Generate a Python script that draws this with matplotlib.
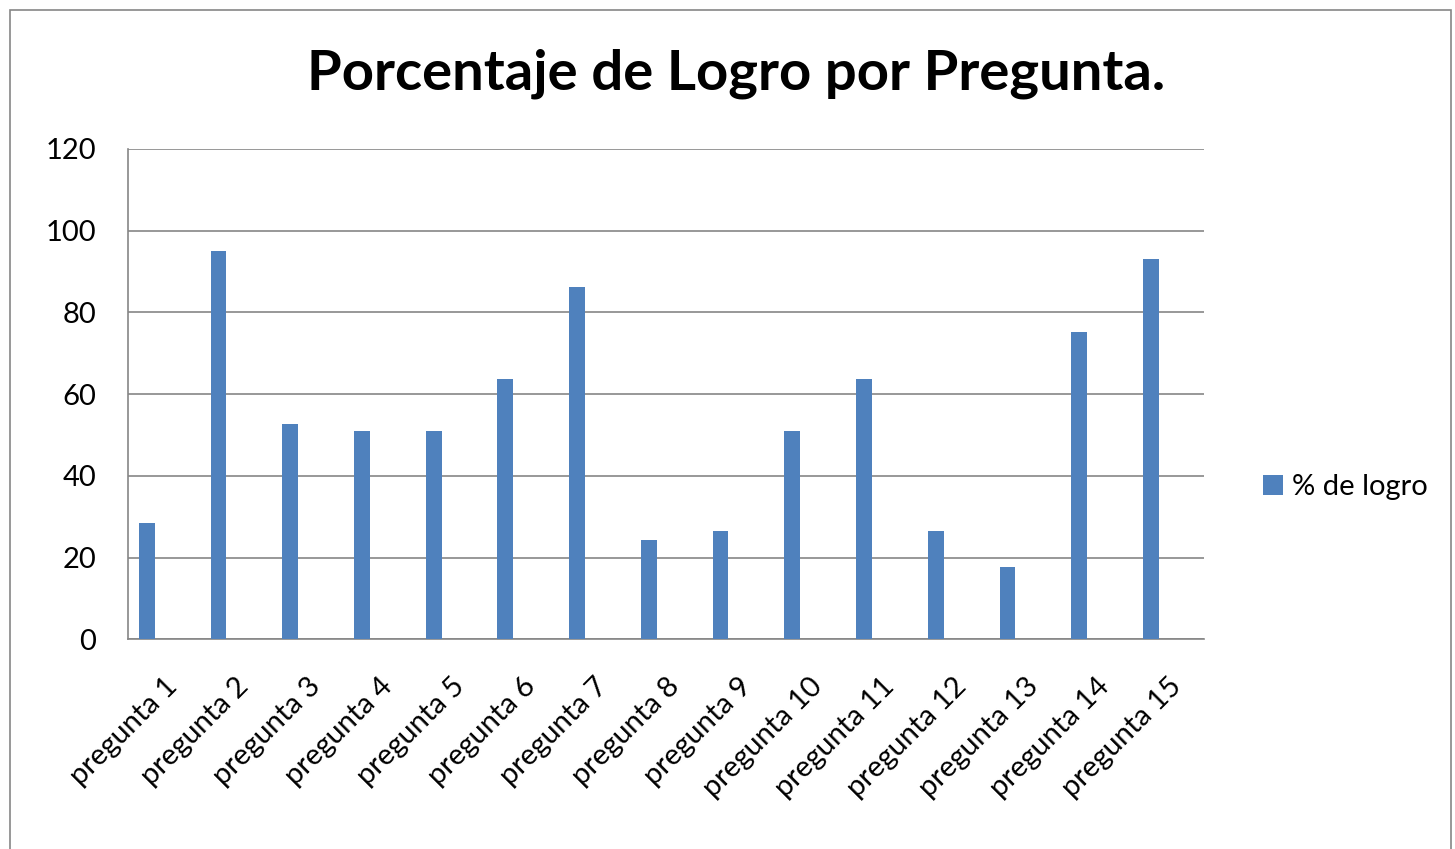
import matplotlib.pyplot as plt
from matplotlib.patches import Rectangle

plt.rcParams['font.family'] = ['Lato', 'DejaVu Sans']

preguntas = ['pregunta 1', 'pregunta 2', 'pregunta 3', 'pregunta 4', 'pregunta 5',
             'pregunta 6', 'pregunta 7', 'pregunta 8', 'pregunta 9', 'pregunta 10',
             'pregunta 11', 'pregunta 12', 'pregunta 13', 'pregunta 14', 'pregunta 15']
logro = [28.5, 95.1, 52.6, 51, 51, 63.8, 86.3, 24.2, 26.5, 51, 63.8, 26.5, 17.6, 75.2, 93]

fig = plt.figure(figsize=(14.55, 8.49), dpi=100)
ax = fig.add_axes([0.088, 0.247, 0.7395, 0.5775])

x = list(range(len(preguntas)))
# bars sit left of the category centre, as in the original spreadsheet chart
ax.bar([i - 0.24 for i in x], logro, width=0.22, color='#4f81bd', label='% de logro', zorder=3)

ax.set_xlim(-0.5, len(preguntas) - 0.5)
ax.set_ylim(0, 120)
ax.set_yticks(range(0, 121, 20))
ax.yaxis.grid(True, color='#868686', linewidth=1.2, zorder=0)
ax.set_xticks(x)
ax.set_xticklabels(preguntas, rotation=45, ha='right', rotation_mode='anchor')
ax.tick_params(axis='x', length=0, labelsize=21, pad=24)
ax.tick_params(axis='y', length=0, labelsize=21, pad=23)
for side in ['top', 'right']:
    ax.spines[side].set_visible(False)
for side in ['left', 'bottom']:
    ax.spines[side].set_color('#868686')
    ax.spines[side].set_linewidth(1.2)

fig.text(0.506, 0.913, 'Porcentaje de Logro por Pregunta.', ha='center', va='center',
         fontsize=40.5, fontweight='bold')
ax.legend(loc='center left', bbox_to_anchor=(1.03, 0.31), frameon=False,
          fontsize=21, handlelength=0.7, handleheight=0.7, handletextpad=0.3)

fig.patches.append(Rectangle((0.007, -0.01), 0.99, 0.998, transform=fig.transFigure,
                             fill=False, edgecolor='#868686', linewidth=1.2))

fig.savefig('out.png')
